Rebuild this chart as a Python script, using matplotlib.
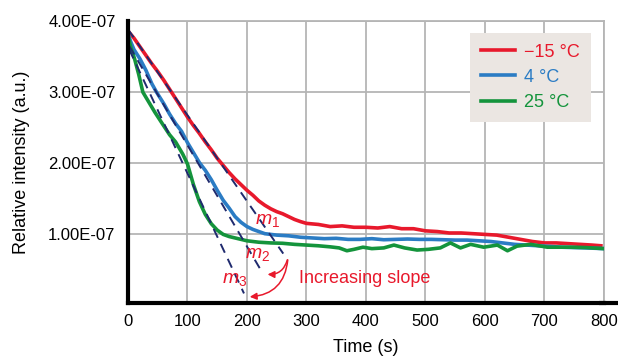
import matplotlib
matplotlib.use("Agg")
import matplotlib.pyplot as plt
from matplotlib.patches import FancyArrowPatch
import numpy as np

plt.rcParams['font.family'] = ['Liberation Sans', 'DejaVu Sans']
plt.rcParams['mathtext.fontset'] = 'custom'
plt.rcParams['mathtext.rm'] = 'Liberation Sans'
plt.rcParams['mathtext.it'] = 'Liberation Sans:italic'

# ---- data (intensity in units of 1e-7) ----
red_x = [0, 10, 20, 30, 40, 50, 60, 70, 80, 90, 100, 110, 120, 130, 140, 150, 160, 170, 180, 190,
         200, 210, 220, 230, 240, 250, 260, 270, 280, 290, 300, 320, 340, 360, 380, 400, 420, 440,
         460, 480, 500, 520, 540, 560, 580, 600, 620, 640, 660, 680, 700, 720, 740, 760, 780, 795]
red_y = [3.86, 3.76, 3.64, 3.52, 3.40, 3.29, 3.17, 3.04, 2.91, 2.78, 2.65, 2.53, 2.42, 2.30, 2.19,
         2.07, 1.97, 1.87, 1.78, 1.70, 1.62, 1.55, 1.47, 1.41, 1.36, 1.32, 1.29, 1.25, 1.21, 1.18,
         1.155, 1.14, 1.11, 1.12, 1.10, 1.10, 1.09, 1.11, 1.08, 1.08, 1.05, 1.04, 1.02, 1.02, 1.01,
         1.00, 0.99, 0.96, 0.93, 0.90, 0.88, 0.88, 0.87, 0.86, 0.85, 0.84]

blue_x = [0, 5, 10, 20, 30, 40, 48, 60, 70, 80, 90, 100, 110, 120, 130, 140, 150, 160, 170, 180,
          190, 200, 210, 220, 230, 250, 270, 290, 310, 330, 350, 370, 390, 410, 430, 450, 470, 490,
          510, 530, 550, 570, 590, 610, 630, 650, 670, 690, 710, 730, 750, 770, 800]
blue_y = [3.82, 3.70, 3.60, 3.47, 3.31, 3.12, 3.00, 2.84, 2.69, 2.56, 2.45, 2.29, 2.15, 2.01, 1.90,
          1.77, 1.62, 1.48, 1.37, 1.25, 1.17, 1.11, 1.07, 1.04, 1.01, 0.99, 0.98, 0.96, 0.95, 0.94,
          0.945, 0.93, 0.93, 0.94, 0.925, 0.93, 0.935, 0.93, 0.93, 0.925, 0.92, 0.92, 0.91, 0.90,
          0.88, 0.86, 0.85, 0.84, 0.83, 0.82, 0.815, 0.81, 0.80]

green_x = [0, 5, 11, 18, 25, 35, 45, 59, 70, 80, 92, 100, 110, 120, 130, 140, 150, 160, 170, 180,
           190, 200, 220, 240, 260, 280, 300, 320, 340, 355, 368, 380, 395, 410, 430, 447, 465, 486,
           505, 525, 542, 559, 576, 598, 621, 638, 654, 677, 705, 744, 770, 800]
green_y = [3.80, 3.62, 3.47, 3.25, 3.00, 2.86, 2.72, 2.54, 2.40, 2.30, 2.13, 1.99, 1.70, 1.46, 1.28,
           1.15, 1.06, 1.00, 0.97, 0.95, 0.93, 0.91, 0.89, 0.88, 0.875, 0.86, 0.85, 0.84, 0.825,
           0.81, 0.77, 0.79, 0.82, 0.80, 0.81, 0.85, 0.81, 0.78, 0.79, 0.81, 0.88, 0.81, 0.86, 0.82,
           0.85, 0.77, 0.835, 0.86, 0.82, 0.82, 0.815, 0.80]

# tangent (slope) lines: [x_start, x_end], [y_start, y_end]
m1_x = [0, 261]
m1_y = [3.885, 0.73]
m2_x = [2, 226]
m2_y = [3.65, 0.46]
m3_x = [2, 195]
m3_y = [3.60, 0.17]

labels = ['\u221215 \u00b0C', '4 \u00b0C', '25 \u00b0C']
colors = ['#e8192c', '#2b7cc4', '#14943c']
SCALE = 1e-7

xticks = [0, 100, 200, 300, 400, 500, 600, 700, 800]
yticks = [1e-7, 2e-7, 3e-7, 4e-7]
ytick_labels = ['1.00E-07', '2.00E-07', '3.00E-07', '4.00E-07']

fig = plt.figure(figsize=(6.22, 3.57), dpi=100)
ax = fig.add_axes([0.2058, 0.151, 0.765, 0.790])

series = [(red_x, red_y), (blue_x, blue_y), (green_x, green_y)]
for (xs, ys), c, lab in zip(series, colors, labels):
    ax.plot(xs, np.array(ys) * SCALE, color=c, lw=2.6, label=lab, zorder=3,
            solid_joinstyle='round')

navy = '#1f2a6e'
for mx, my in [(m1_x, m1_y), (m2_x, m2_y), (m3_x, m3_y)]:
    ax.plot(mx, np.array(my) * SCALE, color=navy, lw=1.4, ls=(0, (5, 3.5)), zorder=4)

ax.set_xlim(0, 800)
ax.set_ylim(0.034e-7, 4e-7)
ax.set_xticks(xticks)
ax.set_xticklabels([str(t) for t in xticks])
ax.set_yticks(yticks)
ax.set_yticklabels(ytick_labels)
ax.tick_params(length=0, labelsize=12)
ax.tick_params(axis='y', pad=9)
ax.tick_params(axis='x', pad=8)
ax.grid(True, color='#b5b5b5', lw=1.3)
ax.set_axisbelow(True)

for s in ['top', 'right']:
    ax.spines[s].set_color('#b5b5b5')
    ax.spines[s].set_linewidth(1.3)
for s in ['left', 'bottom']:
    ax.spines[s].set_color('black')
    ax.spines[s].set_linewidth(3)
    ax.spines[s].set_zorder(5)
# extend bottom axis line past the frame
ax.plot([0.99, 1.03], [0, 0], transform=ax.transAxes, color='black', lw=3,
        clip_on=False, solid_capstyle='butt', zorder=5)

ax.set_xlabel('Time (s)', fontsize=13, labelpad=7)
ax.set_ylabel('Relative intensity (a.u.)', fontsize=13, labelpad=13)

leg = ax.legend(loc='upper right', bbox_to_anchor=(0.9727, 0.9585), borderaxespad=0,
                fontsize=13, frameon=True, fancybox=False, facecolor='#ebe6e2',
                edgecolor='none', framealpha=1, handlelength=1.9, handletextpad=0.5,
                labelspacing=0.45, borderpad=0.6, labelcolor=colors)
leg.set_zorder(6)

red = colors[0]
ax.text(235, 1.20 * SCALE, r'$m_\mathrm{1}$', color=red, fontsize=14, ha='center', va='center', zorder=6)
ax.text(217, 0.72 * SCALE, r'$m_\mathrm{2}$', color=red, fontsize=14, ha='center', va='center', zorder=6)
ax.text(180, 0.36 * SCALE, r'$m_\mathrm{3}$', color=red, fontsize=14, ha='center', va='center', zorder=6)
ax.text(287, 0.385 * SCALE, 'Increasing slope', color=red, fontsize=13, ha='left', va='center', zorder=6)

for end in [(230, 0.44), (200, 0.12)]:
    arr = FancyArrowPatch((269, 0.68 * SCALE), (end[0], end[1] * SCALE),
                          connectionstyle='arc3,rad=-0.45', arrowstyle='-|>,head_length=4,head_width=2',
                          color=red, lw=1.1, zorder=6)
    ax.add_patch(arr)

fig.savefig('out.png', dpi=100)
